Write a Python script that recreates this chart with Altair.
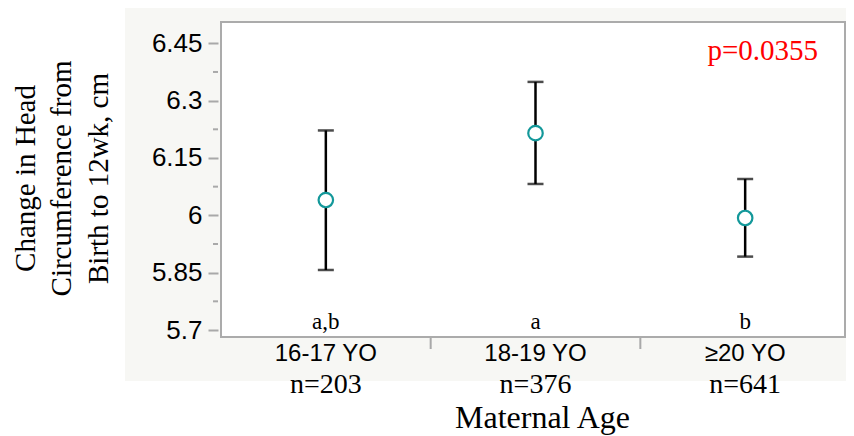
import altair as alt
import pandas as pd

# ---- data ----
categories = ["16-17 YO", "18-19 YO", "≥20 YO"]
means = [6.040, 6.215, 5.993]
lower = [5.857, 6.082, 5.892]
upper = [6.222, 6.349, 6.095]
n_labels = ["n=203", "n=376", "n=641"]
letters = ["a,b", "a", "b"]
y_ticks = [5.7, 5.85, 6.0, 6.15, 6.3, 6.45]
y_minor = [5.775, 5.925, 6.075, 6.225, 6.375]
p_text = "p=0.0355"

W, H = 629, 315
FRAME_W = 624          # canvas must stay inside the 854px window with its 8px margins
Y_DOMAIN = [5.6817, 6.5057]

df = pd.DataFrame({"cat": categories, "mean": means, "lo": lower, "hi": upper,
                   "n": n_labels, "letter": letters, "base": [5.7] * 3})
minor_df = pd.DataFrame({"v": y_minor})
bound_df = pd.DataFrame({"cat": categories[1:]})
one = pd.DataFrame({"k": [0]})

xscale = alt.Scale(type="band", domain=categories, paddingInner=0, paddingOuter=0)
yscale = alt.Scale(domain=Y_DOMAIN, nice=False, zero=False)

SERIF = "Liberation Serif"
SANS = "Liberation Sans"

x_axis = alt.Axis(title="Maternal Age", titleFont=SERIF, titleFontSize=32,
                  titleFontWeight="normal", titleColor="black",
                  titleBaseline="alphabetic", titleY=90, titleX=321,
                  labelFont=SANS, labelFontSize=24, labelColor="black",
                  labelAngle=0, labelBaseline="alphabetic", labelPadding=23,
                  ticks=False, domain=False, grid=False, zindex=1)
y_axis = alt.Axis(values=y_ticks, format=".3~g", title=["Change in Head",
                  "Circumference from", "Birth to 12wk, cm"],
                  titleFont=SERIF, titleFontSize=29, titleFontWeight="normal",
                  titleColor="black", titleLineHeight=36.5, titleX=-184, titleY=156,
                  titleAngle=-90, titleAlign="center", titleBaseline="alphabetic",
                  labelFont=SANS, labelFontSize=26, labelColor="black",
                  labelPadding=6, tickSize=10, tickWidth=2, tickColor="#a9a9a9",
                  domain=False, grid=False, offset=3, zindex=1)


def X(field, **kw):
    return alt.X(field, scale=xscale, axis=x_axis, **kw)


def Y(field):
    return alt.Y(field, scale=yscale, axis=y_axis)


# background panel and plot frame
panel = alt.Chart(one).mark_rect(color="#f7f7f4").encode(
    x=alt.value(-96), x2=alt.value(W + 10), y=alt.value(-15), y2=alt.value(H + 44))
panel_top = alt.Chart(one).mark_rule(color="#d9d9d9", strokeWidth=2).encode(
    x=alt.value(-96), x2=alt.value(W + 10), y=alt.value(-15))
frame = alt.Chart(one).mark_rect(fill="white", stroke="#ababab", strokeWidth=2).encode(
    x=alt.value(0), x2=alt.value(FRAME_W), y=alt.value(0), y2=alt.value(H))

bars = alt.Chart(df).mark_rule(color="black", strokeWidth=2.5).encode(
    x=X("cat:N"), y=Y("lo:Q"), y2="hi:Q")
caps_lo = alt.Chart(df).mark_tick(color="black", thickness=2.5, size=16).encode(
    x=X("cat:N"), y=Y("lo:Q"))
caps_hi = alt.Chart(df).mark_tick(color="black", thickness=2.5, size=16).encode(
    x=X("cat:N"), y=Y("hi:Q"))
points = alt.Chart(df).mark_point(shape="circle", filled=True, fill="white",
                                  stroke="#13989a", strokeWidth=2.2, size=210,
                                  opacity=1).encode(x=X("cat:N"), y=Y("mean:Q"))

letter_text = alt.Chart(df).mark_text(font=SERIF, fontSize=23, color="black",
                                      baseline="alphabetic", dy=-1).encode(
    x=X("cat:N"), y=Y("base:Q"), text="letter:N")
n_text = alt.Chart(df).mark_text(font=SERIF, fontSize=28, color="black",
                                 baseline="alphabetic").encode(
    x=X("cat:N"), y=alt.value(H + 56), text="n:N")

minor_ticks = alt.Chart(minor_df).mark_rule(color="#a9a9a9", strokeWidth=2).encode(
    y=Y("v:Q"), x=alt.value(-8), x2=alt.value(-3))
x_ticks = alt.Chart(bound_df).mark_rule(color="#a9a9a9", strokeWidth=2).encode(
    x=X("cat:N", bandPosition=0), y=alt.value(H + 1), y2=alt.value(H + 12))

p_label = alt.Chart(one).mark_text(font=SERIF, fontSize=29, color="#ff0000",
                                   align="right", baseline="alphabetic").encode(
    x=alt.value(597), y=alt.value(38), text=alt.value(p_text))

chart = alt.layer(panel, panel_top, frame, bars, caps_lo, caps_hi, points,
                  minor_ticks, x_ticks, letter_text, n_text, p_label).properties(
    width=W, height=H,
    autosize=alt.AutoSizeParams(type="none"),
    padding={"left": 213, "top": 14, "right": -4, "bottom": 98},
    background="white",
).configure_view(stroke=None)

chart.save("out.html", embed_options={"renderer": "svg", "actions": False})
